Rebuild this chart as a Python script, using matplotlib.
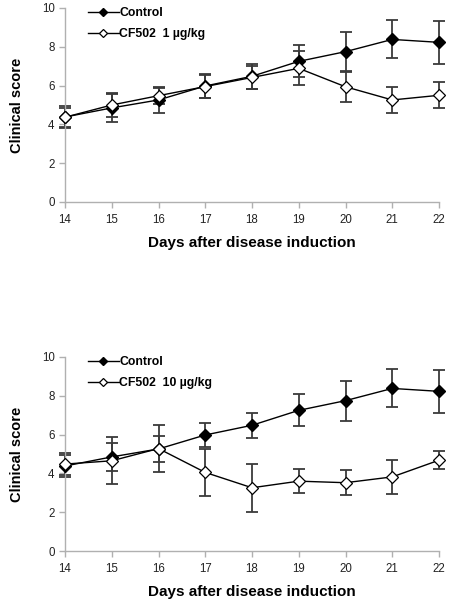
import matplotlib
matplotlib.use("Agg")
import matplotlib.pyplot as plt

plt.rcParams['font.family'] = ['Liberation Sans', 'DejaVu Sans']

days = [14, 15, 16, 17, 18, 19, 20, 21, 22]
control = [4.38, 4.85, 5.26, 5.98, 6.48, 7.25, 7.75, 8.38, 8.23]
control_err = [0.55, 0.72, 0.65, 0.64, 0.65, 0.83, 1.03, 0.98, 1.1]
cf1 = [4.37, 5.0, 5.48, 5.95, 6.42, 6.89, 5.94, 5.26, 5.5]
cf1_err = [0.5, 0.6, 0.42, 0.6, 0.6, 0.88, 0.8, 0.68, 0.66]
cf10 = [4.48, 4.65, 5.28, 4.05, 3.26, 3.6, 3.52, 3.82, 4.68]
cf10_err = [0.55, 1.22, 1.2, 1.22, 1.24, 0.62, 0.65, 0.86, 0.47]

labels = ["Control", "CF502  1 \u00b5g/kg", "CF502  10 \u00b5g/kg"]
yticks = [0, 2, 4, 6, 8, 10]

fig = plt.figure(figsize=(4.5, 6.01), dpi=100)
W, H = 450, 601
axes_px = [(65, 8, 439, 202), (65, 357, 439, 551)]

def draw(ax, treat, treat_err, treat_label):
    ecol = '#3a3a3a'
    ax.errorbar(days, control, yerr=control_err, fmt='none', ecolor=ecol,
                elinewidth=1.3, capsize=4, capthick=1.3, clip_on=False, zorder=2)
    ax.errorbar(days, treat, yerr=treat_err, fmt='none', ecolor=ecol,
                elinewidth=1.3, capsize=4, capthick=1.3, clip_on=False, zorder=2)
    ax.plot(days, control, color='black', lw=1.0, marker='D', ms=5.8,
            mfc='black', mec='black', label=labels[0], clip_on=False, zorder=4)
    ax.plot(days, treat, color='black', lw=1.0, marker='D', ms=5.8,
            mfc='white', mec='black', mew=0.9, label=treat_label, clip_on=False, zorder=5)
    ax.set_xlim(14, 22)
    ax.set_ylim(0, 10)
    ax.set_xticks(days)
    ax.set_yticks(yticks)
    for s in ['top', 'right']:
        ax.spines[s].set_visible(False)
    for s in ['left', 'bottom']:
        ax.spines[s].set_color('#b0b0b0')
        ax.spines[s].set_linewidth(1.0)
    ax.tick_params(axis='both', colors='#b0b0b0', labelcolor='#222222',
                   labelsize=8.3, length=4, width=1.0)
    ax.tick_params(axis='x', pad=5)
    ax.set_ylabel("Clinical score", fontsize=10.5, fontweight='bold', labelpad=13)
    ax.set_xlabel("Days after disease induction", fontsize=11, fontweight='bold', labelpad=7)
    ax.legend(loc='upper left', bbox_to_anchor=(0.0615, 1.004), frameon=False,
              prop={'weight': 'bold', 'size': 8.8},
              handlelength=2.5, handletextpad=0.05, labelspacing=0.75,
              borderaxespad=0, borderpad=0, markerscale=0.75)

for (x0, y0, x1, y1), treat, err, lab in zip(axes_px, [cf1, cf10], [cf1_err, cf10_err], labels[1:]):
    ax = fig.add_axes([x0 / W, 1 - y1 / H, (x1 - x0) / W, (y1 - y0) / H])
    draw(ax, treat, err, lab)

fig.savefig("out.png", dpi=100)
